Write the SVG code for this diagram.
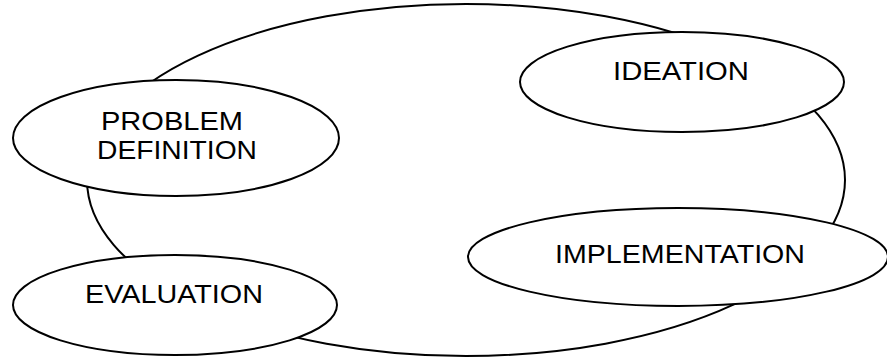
<svg xmlns="http://www.w3.org/2000/svg" width="887" height="358" viewBox="0 0 887 358">
  <style>
    .ring { fill: none; stroke: #000; stroke-width: 2; }
    .node ellipse { fill: #fff; stroke: #000; stroke-width: 2; }
    .node text { font-family: "Liberation Sans", Arial, sans-serif; font-size: 25px; fill: #000; text-anchor: middle; }
  </style>
  <rect width="887" height="358" fill="#fff"/>

  <!-- cycle linking the four stages -->
  <g id="connectors">
    <ellipse class="ring" cx="466" cy="180" rx="379" ry="176"/>
  </g>

  <g id="problem-definition" class="node">
    <ellipse cx="176" cy="138" rx="163" ry="58"/>
    <text x="172" y="130" textLength="142" lengthAdjust="spacingAndGlyphs">PROBLEM</text>
    <text x="177" y="159" textLength="160" lengthAdjust="spacingAndGlyphs">DEFINITION</text>
  </g>

  <g id="ideation" class="node">
    <ellipse cx="682" cy="82" rx="162" ry="50"/>
    <text x="681" y="80" textLength="136" lengthAdjust="spacingAndGlyphs">IDEATION</text>
  </g>

  <g id="implementation" class="node">
    <ellipse cx="678" cy="257" rx="210" ry="49"/>
    <text x="680" y="263" textLength="250" lengthAdjust="spacingAndGlyphs">IMPLEMENTATION</text>
  </g>

  <g id="evaluation" class="node">
    <ellipse cx="175" cy="305" rx="162" ry="50"/>
    <text x="174" y="303" textLength="178" lengthAdjust="spacingAndGlyphs">EVALUATION</text>
  </g>
</svg>
